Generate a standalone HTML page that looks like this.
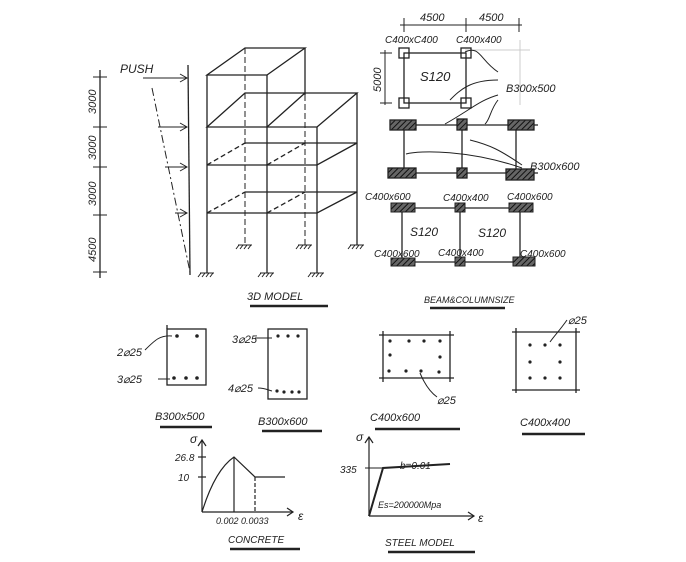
<!DOCTYPE html>
<html><head><meta charset="utf-8"><style>html,body{margin:0;padding:0;background:#fff}svg{display:block}</style></head><body>
<svg width="686" height="562" viewBox="0 0 686 562" xmlns="http://www.w3.org/2000/svg" font-family="Liberation Sans, sans-serif" font-style="italic" fill="none" stroke="#222" stroke-width="1.3">
<defs><pattern id="h" width="4" height="4" patternUnits="userSpaceOnUse" patternTransform="rotate(45)"><rect width="4" height="4" fill="#666" stroke="none"/><line x1="0" y1="0" x2="0" y2="4" stroke="#111" stroke-width="2"/></pattern></defs>
<!-- left dimension -->
<line x1="100" y1="70" x2="100" y2="278"/>
<g stroke-width="1"><line x1="93" y1="77" x2="107" y2="77"/><line x1="93" y1="127" x2="107" y2="127"/><line x1="93" y1="167" x2="107" y2="167"/><line x1="93" y1="215" x2="107" y2="215"/><line x1="93" y1="272" x2="107" y2="272"/></g>
<g fill="#222" stroke="none" font-size="11">
<text transform="translate(96,114) rotate(-90)">3000</text>
<text transform="translate(96,160) rotate(-90)">3000</text>
<text transform="translate(96,206) rotate(-90)">3000</text>
<text transform="translate(96,262) rotate(-90)">4500</text>
<text x="120" y="73" font-size="12">PUSH</text>
</g>
<line x1="188" y1="65" x2="190" y2="275"/>
<line x1="152" y1="88" x2="190" y2="272" stroke-dasharray="8,3,2,3" stroke-width="1"/>
<g stroke-width="1"><line x1="143" y1="78" x2="187" y2="78"/><path d="M180 74 L187 78 L180 82"/>
<line x1="158" y1="127" x2="187" y2="127"/><path d="M180 123 L187 127 L180 131"/>
<line x1="165" y1="167" x2="187" y2="167"/><path d="M180 163 L187 167 L180 171"/>
<line x1="175" y1="213" x2="187" y2="213"/><path d="M180 209 L187 213 L180 217"/></g>
<!-- 3D frame -->
<g>
<path d="M207 75 L267 75 L305 48 L245 48 Z"/>
<line x1="207" y1="75" x2="207" y2="273"/><line x1="267" y1="75" x2="267" y2="273"/><line x1="305" y1="48" x2="305" y2="95"/>
<line x1="317" y1="127" x2="317" y2="273"/><line x1="357" y1="93" x2="357" y2="245"/>
<path d="M207 127 L317 127 L357 93 L245 93 Z"/><line x1="267" y1="127" x2="305" y2="93"/>
<path d="M207 165 L317 165 L357 143 L305 143 L245 143"/><line x1="207" y1="165" x2="245" y2="143" stroke-dasharray="5,3"/><line x1="267" y1="165" x2="305" y2="143" stroke-dasharray="5,3"/>
<path d="M207 213 L317 213 L357 192 L245 192"/><line x1="207" y1="213" x2="245" y2="192" stroke-dasharray="5,3"/><line x1="267" y1="213" x2="305" y2="192" stroke-dasharray="5,3"/>
<line x1="245" y1="48" x2="245" y2="245" stroke-dasharray="6,3" stroke-width="1"/><line x1="305" y1="95" x2="305" y2="245" stroke-dasharray="6,3" stroke-width="1"/>
</g>
<g stroke-width="1">
<path d="M200 273 H214 M201 273 l-3 4 M205 273 l-3 4 M209 273 l-3 4 M213 273 l-3 4"/>
<path d="M260 273 H274 M261 273 l-3 4 M265 273 l-3 4 M269 273 l-3 4 M273 273 l-3 4"/>
<path d="M310 273 H324 M311 273 l-3 4 M315 273 l-3 4 M319 273 l-3 4 M323 273 l-3 4"/>
<path d="M238 245 H252 M239 245 l-3 4 M243 245 l-3 4 M247 245 l-3 4 M251 245 l-3 4"/>
<path d="M298 245 H312 M299 245 l-3 4 M303 245 l-3 4 M307 245 l-3 4 M311 245 l-3 4"/>
<path d="M350 245 H364 M351 245 l-3 4 M355 245 l-3 4 M359 245 l-3 4 M363 245 l-3 4"/>
</g>
<text x="247" y="300" font-size="11" fill="#222" stroke="none">3D MODEL</text>
<line x1="250" y1="306" x2="328" y2="306" stroke-width="2.5"/>
<!-- plan top -->
<line x1="400" y1="25" x2="522" y2="25" stroke-width="1"/>
<g stroke-width="1"><line x1="404" y1="18" x2="404" y2="32"/><line x1="466" y1="18" x2="466" y2="32"/><line x1="519" y1="18" x2="519" y2="32"/>
<line x1="385" y1="50" x2="385" y2="105"/><line x1="380" y1="53" x2="392" y2="53"/><line x1="380" y1="103" x2="392" y2="103"/>
<line x1="465" y1="50" x2="530" y2="50" stroke="#ccc"/><line x1="520" y1="40" x2="520" y2="105" stroke="#ccc"/></g>
<g fill="#222" stroke="none" font-size="11">
<text x="420" y="21">4500</text><text x="479" y="21">4500</text>
<text transform="translate(381,92) rotate(-90)">5000</text>
<text x="385" y="43" font-size="10">C400xC400</text><text x="456" y="43" font-size="10">C400x400</text>
<text x="420" y="81" font-size="13">S120</text>
<text x="506" y="92">B300x500</text>
<text x="530" y="170">B300x600</text>
</g>
<rect x="404" y="53" width="62" height="50"/>
<rect x="399" y="48" width="10" height="10"/><rect x="461" y="48" width="10" height="10"/><rect x="399" y="98" width="10" height="10"/><rect x="461" y="98" width="10" height="10"/>
<g stroke-width="1"><path d="M498 72 C480 60 480 45 465 52"/><path d="M498 80 C470 80 460 90 450 100"/><path d="M498 95 C480 100 470 110 445 124"/><path d="M498 100 C490 110 490 120 485 124"/><path d="M522 165 C500 150 490 145 470 140"/><path d="M522 168 C470 150 420 150 406 154"/></g>
<!-- middle plan -->
<line x1="398" y1="125" x2="538" y2="125"/><line x1="398" y1="173" x2="538" y2="173"/>
<line x1="404" y1="125" x2="404" y2="173"/><line x1="462" y1="125" x2="462" y2="173"/><line x1="516" y1="125" x2="516" y2="173"/>
<rect x="390" y="120" width="26" height="10" fill="url(#h)"/><rect x="457" y="119" width="10" height="11" fill="url(#h)"/><rect x="508" y="120" width="26" height="10" fill="url(#h)"/>
<rect x="388" y="168" width="28" height="10" fill="url(#h)"/><rect x="457" y="168" width="10" height="10" fill="url(#h)"/><rect x="506" y="169" width="28" height="11" fill="url(#h)"/>
<!-- bottom plan -->
<line x1="392" y1="208" x2="532" y2="208"/><line x1="392" y1="262" x2="535" y2="262"/>
<line x1="402" y1="208" x2="402" y2="262"/><line x1="460" y1="208" x2="460" y2="262"/><line x1="520" y1="208" x2="520" y2="262"/>
<rect x="391" y="203" width="24" height="9" fill="url(#h)" stroke-width="1"/><rect x="455" y="203" width="10" height="9" fill="url(#h)" stroke-width="1"/><rect x="509" y="203" width="24" height="9" fill="url(#h)" stroke-width="1"/>
<rect x="391" y="258" width="24" height="8" fill="url(#h)" stroke-width="1"/><rect x="455" y="257" width="10" height="9" fill="url(#h)" stroke-width="1"/><rect x="513" y="257" width="22" height="9" fill="url(#h)" stroke-width="1"/>
<g fill="#222" stroke="none" font-size="10">
<text x="365" y="200">C400x600</text><text x="443" y="201">C400x400</text><text x="507" y="200">C400x600</text>
<text x="410" y="236" font-size="12">S120</text><text x="478" y="237" font-size="12">S120</text>
<text x="374" y="257">C400x600</text><text x="438" y="256">C400x400</text><text x="520" y="257">C400x600</text>
<text x="424" y="303" font-size="9">BEAM&amp;COLUMNSIZE</text>
</g>
<line x1="430" y1="308" x2="505" y2="308" stroke-width="2.5"/>
<!-- sections -->
<rect x="167" y="329" width="39" height="56"/><line x1="167" y1="329" x2="167" y2="325"/>
<g fill="#222" stroke="none"><circle cx="177" cy="336" r="1.8"/><circle cx="197" cy="336" r="1.8"/><circle cx="174" cy="378" r="1.8"/><circle cx="186" cy="378" r="1.8"/><circle cx="197" cy="378" r="1.8"/>
<circle cx="278" cy="336" r="1.6"/><circle cx="288" cy="336" r="1.6"/><circle cx="298" cy="336" r="1.6"/><circle cx="277" cy="391" r="1.6"/><circle cx="284" cy="392" r="1.6"/><circle cx="292" cy="392" r="1.6"/><circle cx="299" cy="392" r="1.6"/>
<circle cx="390" cy="341" r="1.6"/><circle cx="409" cy="341" r="1.6"/><circle cx="424" cy="341" r="1.6"/><circle cx="440" cy="341" r="1.6"/><circle cx="390" cy="355" r="1.6"/><circle cx="440" cy="357" r="1.6"/><circle cx="389" cy="371" r="1.6"/><circle cx="406" cy="371" r="1.6"/><circle cx="421" cy="371" r="1.6"/><circle cx="439" cy="372" r="1.6"/>
<circle cx="530" cy="345" r="1.6"/><circle cx="545" cy="345" r="1.6"/><circle cx="560" cy="345" r="1.6"/><circle cx="530" cy="362" r="1.6"/><circle cx="560" cy="362" r="1.6"/><circle cx="530" cy="378" r="1.6"/><circle cx="545" cy="378" r="1.6"/><circle cx="560" cy="378" r="1.6"/></g>
<rect x="268" y="329" width="39" height="70"/>
<path d="M379 335 H454 M383 331 V382 M450 331 V382 M379 378 H454"/>
<path d="M512 332 H580 M516 328 V393 M576 328 V393 M512 390 H580"/>
<g stroke-width="1"><path d="M145 350 C155 340 160 335 172 336"/><path d="M158 379 H170"/><path d="M255 338 H272"/><path d="M258 388 C265 388 268 390 272 391"/><path d="M420 373 C425 385 430 392 437 397"/><path d="M567 320 C560 330 555 335 550 342"/></g>
<g fill="#222" stroke="none" font-size="11">
<text x="117" y="356">2⌀25</text><text x="117" y="383">3⌀25</text>
<text x="232" y="343">3⌀25</text><text x="228" y="392">4⌀25</text>
<text x="437" y="404">⌀25</text><text x="568" y="324">⌀25</text>
<text x="155" y="420">B300x500</text><text x="258" y="425">B300x600</text><text x="370" y="421">C400x600</text><text x="520" y="426">C400x400</text>
</g>
<g stroke-width="2.5"><line x1="160" y1="427" x2="212" y2="427"/><line x1="262" y1="431" x2="322" y2="431"/><line x1="375" y1="429" x2="460" y2="429"/><line x1="522" y1="434" x2="585" y2="434"/></g>
<!-- concrete -->
<g stroke-width="1.2">
<line x1="202" y1="440" x2="202" y2="512"/><path d="M198 446 L202 440 L206 446"/>
<line x1="202" y1="512" x2="293" y2="512"/><path d="M287 508 L293 512 L287 516"/>
<path d="M202 512 Q215 470 234 457 L255 477 L285 477"/>
<line x1="234" y1="457" x2="234" y2="512"/><line x1="255" y1="477" x2="255" y2="512" stroke-dasharray="4,2"/>
<line x1="198" y1="457" x2="206" y2="457"/><line x1="198" y1="477" x2="206" y2="477"/>
</g>
<g fill="#222" stroke="none" font-size="10">
<text x="190" y="443" font-size="12">σ</text><text x="175" y="461">26.8</text><text x="178" y="481">10</text>
<text x="216" y="524" font-size="9">0.002 0.0033</text><text x="298" y="520" font-size="12">ε</text>
<text x="228" y="543">CONCRETE</text>
<!-- steel -->
<text x="356" y="441" font-size="12">σ</text><text x="340" y="473">335</text><text x="400" y="469">b=0.01</text>
<text x="378" y="508" font-size="9">Es=200000Mpa</text><text x="478" y="522" font-size="12">ε</text>
<text x="385" y="546">STEEL MODEL</text>
</g>
<line x1="230" y1="549" x2="300" y2="549" stroke-width="2.5"/>
<line x1="388" y1="552" x2="475" y2="552" stroke-width="2.5"/>
<g stroke-width="1.2">
<line x1="369" y1="437" x2="369" y2="516"/><path d="M365 443 L369 437 L373 443"/>
<line x1="369" y1="516" x2="474" y2="516"/><path d="M468 512 L474 516 L468 520"/>
<path d="M369 516 L383 468 L450 464" stroke-width="2"/><line x1="365" y1="468" x2="383" y2="468" stroke-width="1"/>
</g>
</svg>
</body></html>
